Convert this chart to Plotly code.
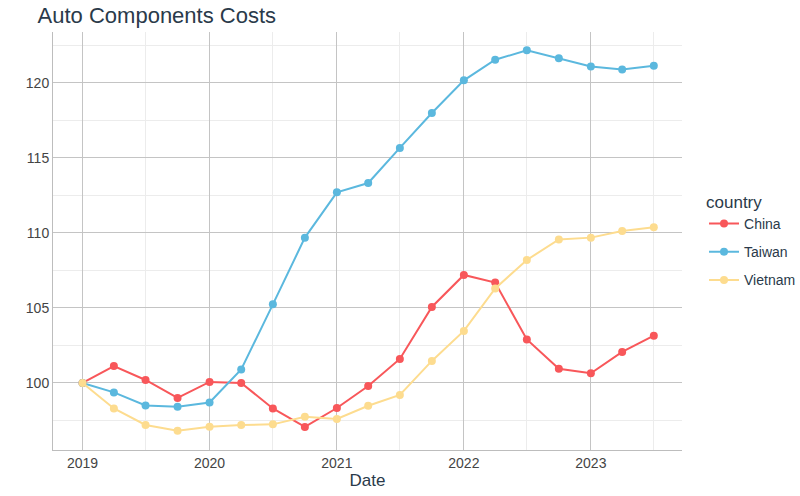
import plotly.graph_objects as go

dates = ["2019-01-01", "2019-04-01", "2019-07-01", "2019-10-01",
         "2020-01-01", "2020-04-01", "2020-07-01", "2020-10-01",
         "2021-01-01", "2021-04-01", "2021-07-01", "2021-10-01",
         "2022-01-01", "2022-04-01", "2022-07-01", "2022-10-01",
         "2023-01-01", "2023-04-01", "2023-07-01"]

china = [100.0, 101.13, 100.2, 99.0, 100.07, 100.0, 98.3, 97.07, 98.33, 99.8,
         101.6, 105.07, 107.2, 106.69, 102.9, 100.95, 100.65, 102.07, 103.15]
taiwan = [100.0, 99.37, 98.5, 98.42, 98.7, 100.9, 105.24, 109.69, 112.71, 113.33,
          115.67, 118.0, 120.18, 121.55, 122.18, 121.65, 121.1, 120.9, 121.15]
vietnam = [100.0, 98.3, 97.2, 96.82, 97.08, 97.2, 97.24, 97.75, 97.6, 98.48,
           99.2, 101.47, 103.47, 106.3, 108.2, 109.57, 109.69, 110.13, 110.38]

series = [("China", china, "#F8575A"), ("Taiwan", taiwan, "#5BB8DE"), ("Vietnam", vietnam, "#FDDC8F")]

fig = go.Figure()
for name, vals, col in series:
    fig.add_trace(go.Scatter(x=dates, y=vals, name=name, legendgroup=name, mode="lines+markers",
                             line=dict(color=col, width=2), marker=dict(color=col, size=8)))

fig.update_layout(
    width=800, height=496,
    margin=dict(l=53, r=118, t=32, b=46, autoexpand=False),
    plot_bgcolor="white", paper_bgcolor="white",
    font=dict(family="Liberation Sans, Arial, sans-serif", color="#444", size=14),
    title=dict(text="Auto Components Costs", x=0.047, xanchor="left", y=0.985, yanchor="top",
               font=dict(size=22, color="#2a3a4a")),
    legend=dict(title=dict(text="country", font=dict(size=17, color="#2a3a4a")),
                x=1.035, xanchor="left", y=0.632, yanchor="top", itemwidth=30,
                font=dict(size=14, color="#2a3a4a"), tracegroupgap=7),
    showlegend=True,
)
fig.update_xaxes(
    type="date", range=["2018-10-08", "2023-09-20"],
    tick0="2019-01-01", dtick="M12", tickformat="%Y",
    showgrid=True, gridcolor="#c4c4c4", gridwidth=1,
    minor=dict(dtick="M6", tick0="2019-07-01", showgrid=True, gridcolor="#ececec"),
    showline=True, linecolor="#bdbdbd", linewidth=1,
    ticks="", automargin=False,
    title=dict(text="Date", font=dict(size=17, color="#2a3a4a"), standoff=4),
    zeroline=False,
)
fig.update_yaxes(
    range=[95.53, 123.4], tick0=100, dtick=5,
    showgrid=True, gridcolor="#c4c4c4", gridwidth=1,
    minor=dict(dtick=2.5, tick0=97.5, showgrid=True, gridcolor="#ececec"),
    showline=True, linecolor="#bdbdbd", linewidth=1,
    ticks="", zeroline=False, automargin=False,
)

fig.write_html("out.html")
